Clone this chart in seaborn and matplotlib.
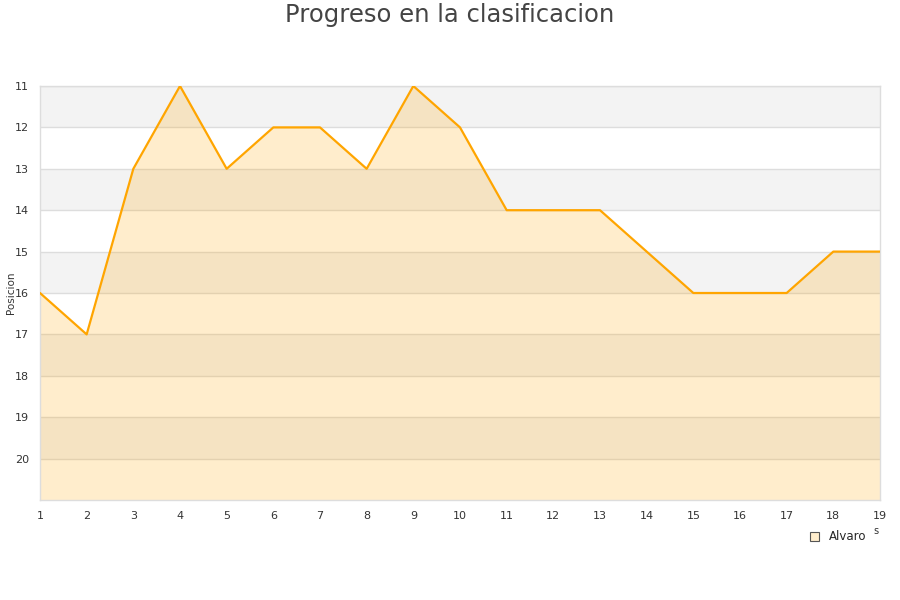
import numpy as np
import pandas as pd
import matplotlib
matplotlib.use("Agg")
import matplotlib.pyplot as plt
import seaborn as sns
from matplotlib.patches import Patch

jornadas = list(range(1, 20))
posicion = [16, 17, 13, 11, 13, 12, 12, 13, 11, 12, 14, 14, 14, 15, 16, 16, 16, 15, 15]
jugador = "Alvaro"

df = pd.DataFrame({"Jornada": jornadas, "Posicion": posicion})

sns.set_style("white")
plt.rcParams["font.family"] = ["DejaVu Sans"]

fig = plt.figure(figsize=(9, 6), dpi=100)
ax = fig.add_axes([40 / 900, 100 / 600, 840 / 900, 414 / 600])

# alternating bands
for y0 in range(11, 21, 2):
    ax.axhspan(y0, y0 + 1, color="#f3f3f3", zorder=0, lw=0)
for y in range(11, 21):
    ax.axhline(y, color="#dddddd", lw=1, zorder=1)

ax.fill_between(df["Jornada"], df["Posicion"], 21, color="#ffa500", alpha=0.2, lw=0, zorder=2)
sns.lineplot(data=df, x="Jornada", y="Posicion", color="#ffa500", lw=1.6, ax=ax, zorder=3)

ax.set_xlim(1, 19)
ax.set_ylim(21, 11)
ax.set_xticks(jornadas)
ax.set_yticks(range(11, 21))
ax.tick_params(axis="both", labelsize=8, colors="#333333", length=0, pad=8)
ax.set_xlabel("")
ax.set_ylabel("Posicion", fontsize=7.5, color="#333333")
ax.yaxis.set_label_coords(-0.029, 0.5)

for s in ["left", "bottom", "right", "top"]:
    ax.spines[s].set_color("#dddddd")
    ax.spines[s].set_linewidth(1)

fig.text(0.5, 1 - 15 / 600, "Progreso en la clasificacion", fontsize=17.5, color="#444444",
         ha="center", va="center")

# trozo cortado de la etiqueta del eje x
fig.text(876 / 900, 1 - 531 / 600, "s", fontsize=7, color="#333333", ha="center", va="center")

handle = Patch(facecolor="#ffedcc", edgecolor="#555555", lw=0.8)
fig.legend([handle], [jugador], loc="center", bbox_to_anchor=(838 / 900, 1 - 537 / 600),
           frameon=False, fontsize=8.5, handlelength=0.8, handleheight=0.8, handletextpad=0.8)

fig.savefig("out.png", dpi=100)
